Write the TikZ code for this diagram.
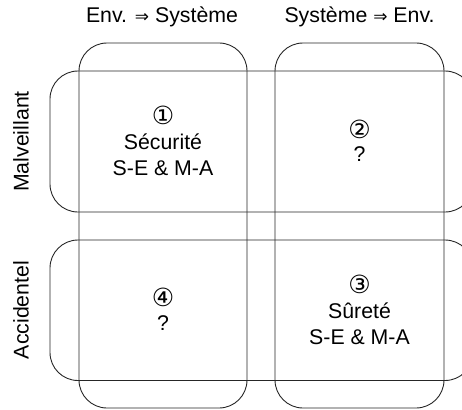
\documentclass[tikz,border=0pt]{standalone}
\usepackage{fontspec}
\setmainfont{Liberation Sans}
\newfontfamily\symfont{DejaVu Sans}
\newcommand{\bigtxt}{\fontsize{21.3}{25.6}\selectfont}
\newcommand{\circtxt}{\symfont\fontsize{25}{28}\selectfont}
\newcommand{\arrtxt}{\symfont\fontsize{17}{20}\selectfont}
\begin{document}
\begin{tikzpicture}[x=1pt,y=-1pt,
  band/.style={draw=black!85, line width=0.9pt, rounded corners=28pt, inner sep=0pt, outer sep=0pt},
  lbl/.style={font=\bigtxt, inner sep=0pt, anchor=base},
  circ/.style={font=\circtxt, inner sep=0pt, anchor=center},
  side/.style={font=\bigtxt, inner sep=0pt, rotate=90, anchor=center}]
\useasboundingbox (0,0) rectangle (462,409);
\clip (0,0) rectangle (462,409);
% bands
\node[band, minimum width=168pt, minimum height=365pt] (col1) at (163,225.5) {};
\node[band, minimum width=169pt, minimum height=365pt] (col2) at (359.5,225.5) {};
\node[band, minimum width=423pt, minimum height=141pt] (row1) at (261.5,141.5) {};
\node[band, minimum width=423pt, minimum height=140.5pt] (row2) at (261.5,310.25) {};
% headers
\node[lbl] (h1) at (162,22.5) {Env. {\arrtxt ⇒} Système};
\node[lbl] (h2) at (359.5,22.5) {Système {\arrtxt ⇒} Env.};
% side labels
\node[side] (s1) at (21,141.5) {Malveillant};
\node[side] (s2) at (21,310) {Accidentel};
% cell 1
\node[circ] (c1n) at (163,115.5) {①};
\node[lbl] (c1a) at (163,149) {Sécurité};
\node[lbl] (c1b) at (163,175) {S-E \& M-A};
% cell 2
\node[circ] (c2n) at (359.5,129) {②};
\node[lbl] (c2a) at (359.5,161.5) {?};
% cell 4
\node[circ] (c4n) at (163,297) {④};
\node[lbl] (c4a) at (163,330) {?};
% cell 3
\node[circ] (c3n) at (359.5,284.5) {③};
\node[lbl] (c3a) at (359.5,318) {Sûreté};
\node[lbl] (c3b) at (359.5,344) {S-E \& M-A};
\end{tikzpicture}
\end{document}
